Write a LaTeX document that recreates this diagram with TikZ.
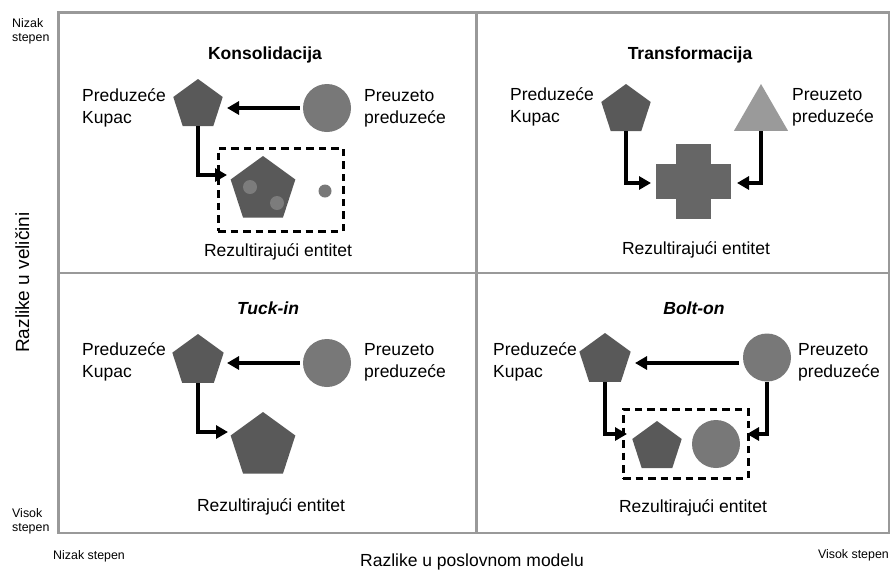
\documentclass[tikz,border=0pt]{standalone}
\usepackage{fontspec}
\setmainfont{Liberation Sans}
\usetikzlibrary{shapes.geometric,arrows.meta}
\definecolor{pentc}{HTML}{595959}
\definecolor{circc}{HTML}{787878}
\definecolor{crossc}{HTML}{666666}
\definecolor{tric}{HTML}{9A9A9A}
\definecolor{dotc}{HTML}{7C7C7C}
\definecolor{framec}{HTML}{999999}
\tikzset{
  lbl/.style={font=\fontsize{17.5}{21}\selectfont, inner sep=0pt, anchor=base west},
  ttl/.style={font=\fontsize{17.5}{21}\selectfont\bfseries, inner sep=0pt, anchor=base},
  ttli/.style={font=\fontsize{17.5}{21}\selectfont\bfseries\itshape, inner sep=0pt, anchor=base},
  res/.style={font=\fontsize{17.5}{21}\selectfont, inner sep=0pt, anchor=base},
  small/.style={font=\fontsize{12.4}{14}\selectfont, inner sep=0pt, anchor=base west},
  pent/.style={regular polygon, regular polygon sides=5, fill=pentc, draw=none, inner sep=0pt, minimum size=2*#1},
  circ/.style={circle, fill=circc, draw=none, inner sep=0pt, minimum size=2*#1},
  dot/.style={circle, fill=dotc, draw=none, inner sep=0pt, minimum size=14pt},
  arr/.style={line width=3.3pt, -{Triangle[length=12pt,width=13pt]}},
  dbox/.style={draw=black, line width=3pt, dash pattern=on 7.5pt off 5pt, fill=none, inner sep=0pt},
  frame/.style={draw=framec, line width=2.5pt},
}
\begin{document}
\begin{tikzpicture}[x=1pt,y=-1pt]
\useasboundingbox (0,0) rectangle (891,571);
\fill[white] (0,0) rectangle (891,571);
% frame
\draw[frame] (58.5,12.5) rectangle (889,533);
\draw[frame] (476.5,12.5) -- (476.5,533);
\draw[frame] (58.5,273) -- (889,273);
% axis labels
\node[small] (nz1) at (12,27.5) {Nizak};
\node[small] (nz2) at (12,41) {stepen};
\node[small] (vs1) at (12,517) {Visok};
\node[small] (vs2) at (12,531) {stepen};
\node[small] (nz3) at (53,559) {Nizak stepen};
\node[small, anchor=base east] (vs3) at (889,558) {Visok stepen};
\node[res, font=\fontsize{17.5}{21}\selectfont] (xax) at (472,566) {Razlike u poslovnom modelu};
\node[res, font=\fontsize{19}{22}\selectfont, rotate=90] (yax) at (29,282.5) {Razlike u veličini};

% ===== Top-left: Konsolidacija
\node[ttl] (t1) at (265,59) {Konsolidacija};
\node[pent=26] (p1) at (198,105) {};
\node[circ=24] (c1) at (327,108) {};
\node[lbl] (l1a) at (82,101) {Preduzeće};
\node[lbl] (l1b) at (82,123) {Kupac};
\node[lbl] (r1a) at (364,101) {Preuzeto};
\node[lbl] (r1b) at (364,123) {preduzeće};
\node[dbox, minimum width=125pt, minimum height=83pt] (b1) at (280.5,189.5) {};
\node[pent=34] (pb1) at (263,190) {};
\node[dot] (d1) at (250,187) {};
\node[dot] (d2) at (277,203) {};
\node[dot, fill=circc, minimum size=13pt] (d3) at (325,191) {};
\node[res] (e1) at (278,256) {Rezultirajući entitet};
\coordinate (a1) at (227,108);
\coordinate (a2) at (227,175);
\draw[arr, shorten <=3pt] (c1.west |- a1) -- (a1);
\draw[arr] (p1.south) |- (a2);

% ===== Top-right: Transformacija
\node[ttl] (t2) at (690,59) {Transformacija};
\node[pent=26] (p2) at (626,110) {};
\node[regular polygon, regular polygon sides=3, fill=tric, inner sep=0pt, minimum size=62.4pt] (tr2) at (761,115.2) {};
\node[lbl] (l2a) at (510,100) {Preduzeće};
\node[lbl] (l2b) at (510,122) {Kupac};
\node[lbl] (r2a) at (792,100) {Preuzeto};
\node[lbl] (r2b) at (792,122) {preduzeće};
\node[rectangle, fill=crossc, inner sep=0pt, minimum width=75pt, minimum height=35pt] (xh) at (693.5,181.5) {};
\node[rectangle, fill=crossc, inner sep=0pt, minimum width=35pt, minimum height=75pt] (xv) at (693.5,181.5) {};
\node[res] (e2) at (696,254) {Rezultirajući entitet};
\coordinate (a3) at (651,183);
\coordinate (a4) at (737,183);
\draw[arr] (p2.south) |- (a3);
\draw[arr] (tr2.south) |- (a4);

% ===== Bottom-left: Tuck-in
\node[ttli] (t3) at (268,314) {Tuck-in};
\node[pent=27] (p3) at (198,361) {};
\node[circ=24] (c3) at (327,363) {};
\node[lbl] (l3a) at (82,355) {Preduzeće};
\node[lbl] (l3b) at (82,377) {Kupac};
\node[lbl] (r3a) at (364,355) {Preuzeto};
\node[lbl] (r3b) at (364,377) {preduzeće};
\node[pent=34] (pb3) at (263,446) {};
\node[res] (e3) at (271,511) {Rezultirajući entitet};
\coordinate (a5) at (227,363);
\coordinate (a6) at (228,432);
\draw[arr, shorten <=3pt] (c3.west) -- (a5);
\draw[arr] (p3.south) |- (a6);

% ===== Bottom-right: Bolt-on
\node[ttli] (t4) at (694,314) {Bolt-on};
\node[pent=27] (p4) at (605,360) {};
\node[circ=24] (c4) at (767,357.5) {};
\node[lbl] (l4a) at (493,355) {Preduzeće};
\node[lbl] (l4b) at (493,377) {Kupac};
\node[lbl] (r4a) at (798,355) {Preuzeto};
\node[lbl] (r4b) at (798,377) {preduzeće};
\node[dbox, minimum width=125pt, minimum height=69pt] (b4) at (685.5,443.5) {};
\node[pent=26] (pb4) at (657,447) {};
\node[circ=24] (cb4) at (716,444) {};
\node[res] (e4) at (693,512) {Rezultirajući entitet};
\coordinate (a7) at (635,363);
\coordinate (a8) at (627,434);
\coordinate (a9) at (747,434);
\draw[arr, shorten <=4pt] (c4.west |- a7) -- (a7);
\draw[arr] (p4.south) |- (a8);
\draw[arr] (c4.south) |- (a9);
\end{tikzpicture}
\end{document}
